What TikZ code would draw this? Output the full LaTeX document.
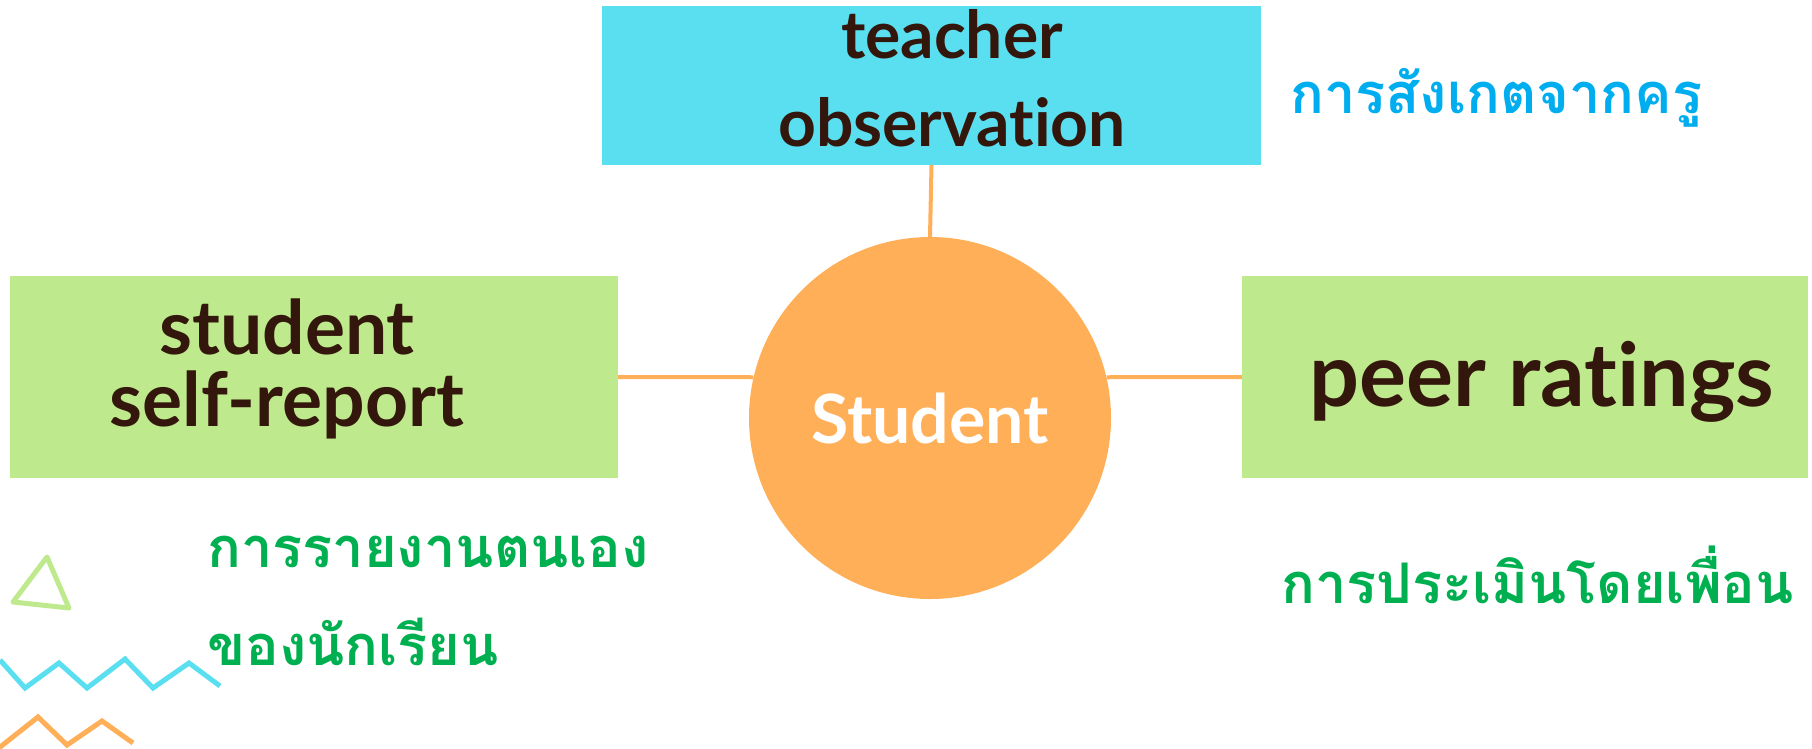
\documentclass[tikz,border=0pt]{standalone}
\usepackage{fontspec}
\setmainfont{Lato}[Ligatures={NoCommon}]
\newfontfamily\thaifont[Script=Thai]{Loma}
\definecolor{boxcyan}{HTML}{5ADFF0}
\definecolor{boxgreen}{HTML}{BEE98C}
\definecolor{orng}{HTML}{FFAF57}
\definecolor{darktxt}{HTML}{33170C}
\definecolor{thblue}{HTML}{00AEEF}
\definecolor{thgreen}{HTML}{00B050}
\begin{document}
\begin{tikzpicture}[x=1pt,y=-1pt,
  box/.style={rectangle,inner sep=0pt,align=center,text=darktxt,font=\bfseries},
  conn/.style={draw=orng,line width=4pt},
  lbl/.style={inner sep=0pt,align=center,text=darktxt},
  thlabel/.style={inner sep=0pt,anchor=west,font=\thaifont\bfseries\fontsize{56}{98}\selectfont},
  deco/.style={line width=5pt,line join=miter,line cap=butt}]
\useasboundingbox (0,0) rectangle (1812,748);
\clip (0,0) rectangle (1812,748);
\node[box,fill=boxcyan,minimum width=659pt,minimum height=159pt] (tb) at (931.5,85.5) {};
\node[box,fill=boxgreen,minimum width=608pt,minimum height=202pt] (lb) at (314,377) {};
\node[box,fill=boxgreen,minimum width=566pt,minimum height=202pt] (rb) at (1525,377) {};
\node[lbl,font=\bfseries\fontsize{66}{88}\selectfont] (tbt) at (952,78) {teacher\\observation};
\node[lbl,font=\bfseries\fontsize{75}{72}\selectfont] (lbt) at (287,369) {student\\self-report};
\node[lbl,font=\bfseries\fontsize{88}{90}\selectfont] (rbt) at (1542,382) {peer ratings};
\node[circle,fill=orng,minimum size=362pt,inner sep=0pt,text=white,
  font=\bfseries\fontsize{68}{70}\selectfont] (c) at (930,418) {Student};
\draw[conn] (tb.south) -- (c.north);
\draw[conn] (lb.east) -- (c.167);
\draw[conn] (rb.west) -- (c.13);
\node[thlabel,text=thblue] (t1) at (1290,98) {การสังเกตจากครู};
\node[thlabel,text=thgreen,align=left] (t2) at (207,601) {การรายงานตนเอง\\ของนักเรียน};
\node[thlabel,text=thgreen] (t3) at (1281,575) {การประเมินโดยเพื่อน};
\draw[deco,draw=boxgreen,line join=round] (47,557) -- (13,602) -- (69,608) -- cycle;
\draw[deco,draw=boxcyan] (0,660) -- (25,688) -- (59,663) -- (87,688) -- (125,659) -- (153,688) -- (189,663) -- (220,686);
\draw[deco,draw=orng] (-10,755) -- (38,717) -- (67,745) -- (102,721) -- (133,743);
\end{tikzpicture}
\end{document}
